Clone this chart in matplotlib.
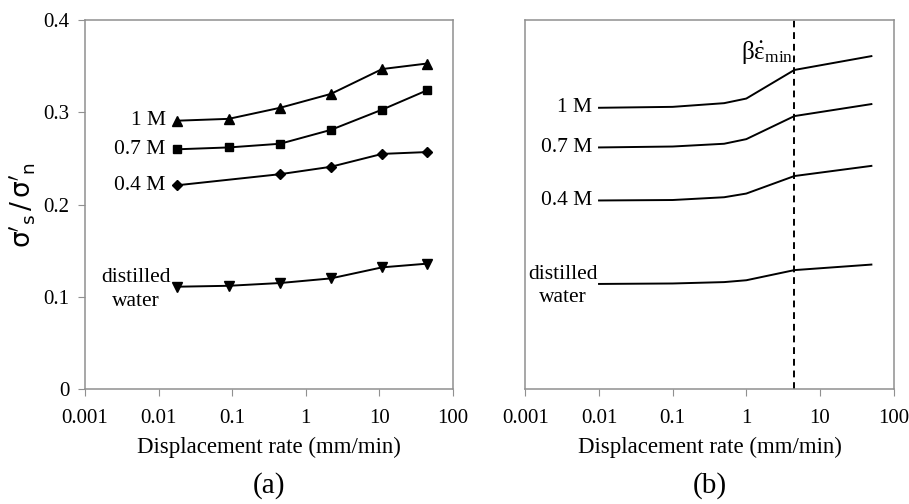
import matplotlib
matplotlib.use("Agg")
import matplotlib.pyplot as plt

# ===============================
# Data
# ===============================
rate_a = [0.018, 0.09, 0.45, 2.2, 11, 45]
rate_a_04 = [0.018, 0.45, 2.2, 11, 45]
a_1M = [0.291, 0.293, 0.305, 0.320, 0.347, 0.353]
a_07M = [0.260, 0.262, 0.266, 0.281, 0.303, 0.324]
a_04M = [0.221, 0.233, 0.241, 0.255, 0.257]
a_water = [0.111, 0.112, 0.115, 0.120, 0.132, 0.136]

rate_b = [0.01, 0.1, 0.5, 1, 4.5, 50]
b_1M = [0.305, 0.306, 0.310, 0.315, 0.346, 0.361]
b_07M = [0.262, 0.263, 0.266, 0.271, 0.296, 0.309]
b_04M = [0.2045, 0.205, 0.208, 0.212, 0.231, 0.242]
b_water = [0.114, 0.1145, 0.116, 0.118, 0.129, 0.135]
beta_rate = 4.5

xticks = [0.001, 0.01, 0.1, 1, 10, 100]
xticklabels = ["0.001", "0.01", "0.1", "1", "10", "100"]
yticks = [0, 0.1, 0.2, 0.3, 0.4]
yticklabels = ["0", "0.1", "0.2", "0.3", "0.4"]

serif = "Liberation Serif"
plt.rcParams["font.family"] = serif
plt.rcParams["mathtext.fontset"] = "custom"
plt.rcParams["mathtext.rm"] = serif
plt.rcParams["mathtext.it"] = serif + ":italic"

fig = plt.figure(figsize=(9.09, 5.04), dpi=100)
ax_a = fig.add_axes([0.0935, 0.228, 0.4045, 0.732])
ax_b = fig.add_axes([0.578, 0.228, 0.405, 0.732])

spine_col = "#909090"
for ax in (ax_a, ax_b):
    ax.set_xscale("log")
    ax.set_xlim(0.001, 100)
    ax.set_ylim(0, 0.4)
    ax.set_xticks(xticks)
    ax.set_xticklabels(xticklabels, fontsize=15)
    ax.minorticks_off()
    for s in ax.spines.values():
        s.set_color(spine_col)
        s.set_linewidth(1.1)
    ax.tick_params(axis="x", direction="out", length=5, color=spine_col, pad=9)
    ax.set_xlabel("Displacement rate (mm/min)", fontsize=16.5, labelpad=7)

# panel a
ax_a.set_yticks(yticks)
ax_a.set_yticklabels(yticklabels, fontsize=15)
ax_a.tick_params(axis="y", direction="out", length=5, color=spine_col, pad=6)
ax_a.set_ylabel(r"$\mathrm{\sigma}'_{\mathrm{s}}\,/\,\mathrm{\sigma}'_{\mathrm{n}}$",
                fontsize=19, math_fontfamily="dejavusans", labelpad=4)

kw = dict(color="black", lw=1.4, ms=7)
ax_a.plot(rate_a, a_1M, marker="^", **kw)
ax_a.plot(rate_a, a_07M, marker="s", **dict(kw, ms=5.5))
ax_a.plot(rate_a_04, a_04M, marker="D", **dict(kw, ms=5))
ax_a.plot(rate_a, a_water, marker="v", **kw)

lab_x = 0.0125
fs = 15.5
ax_a.text(lab_x, a_1M[0], "1 M", ha="right", va="center", fontsize=fs)
ax_a.text(lab_x, a_07M[0], "0.7 M", ha="right", va="center", fontsize=fs)
ax_a.text(lab_x, a_04M[0], "0.4 M", ha="right", va="center", fontsize=fs)
ax_a.text(0.0049, a_water[0] - 0.003, "distilled\nwater", ha="center", va="center",
          fontsize=fs, linespacing=1.3)

# panel b
ax_b.set_yticks(yticks)
ax_b.set_yticklabels([])
ax_b.tick_params(axis="y", length=0)
ax_b.plot(rate_b, b_1M, color="black", lw=1.4)
ax_b.plot(rate_b, b_07M, color="black", lw=1.4)
ax_b.plot(rate_b, b_04M, color="black", lw=1.4)
ax_b.plot(rate_b, b_water, color="black", lw=1.4)
ax_b.axvline(beta_rate, color="black", lw=1.4, ls=(0, (3.5, 2.5)))

lab_xb = 0.0081
ax_b.text(lab_xb, b_1M[0], "1 M", ha="right", va="center", fontsize=fs)
ax_b.text(lab_xb, b_07M[0], "0.7 M", ha="right", va="center", fontsize=fs)
ax_b.text(lab_xb, b_04M[0], "0.4 M", ha="right", va="center", fontsize=fs)
ax_b.text(0.0032, b_water[0] - 0.002, "distilled\nwater", ha="center", va="center",
          fontsize=fs, linespacing=1.3)
ax_b.text(beta_rate * 0.96, 0.365,
          r"$\mathrm{\beta}\dot{\mathrm{\varepsilon}}_{\mathrm{min}}$",
          ha="right", va="center", fontsize=18)

fig.text(0.2955, 0.036, "(a)", ha="center", va="center", fontsize=21)
fig.text(0.7805, 0.036, "(b)", ha="center", va="center", fontsize=21)

fig.savefig("out.png", dpi=100)
